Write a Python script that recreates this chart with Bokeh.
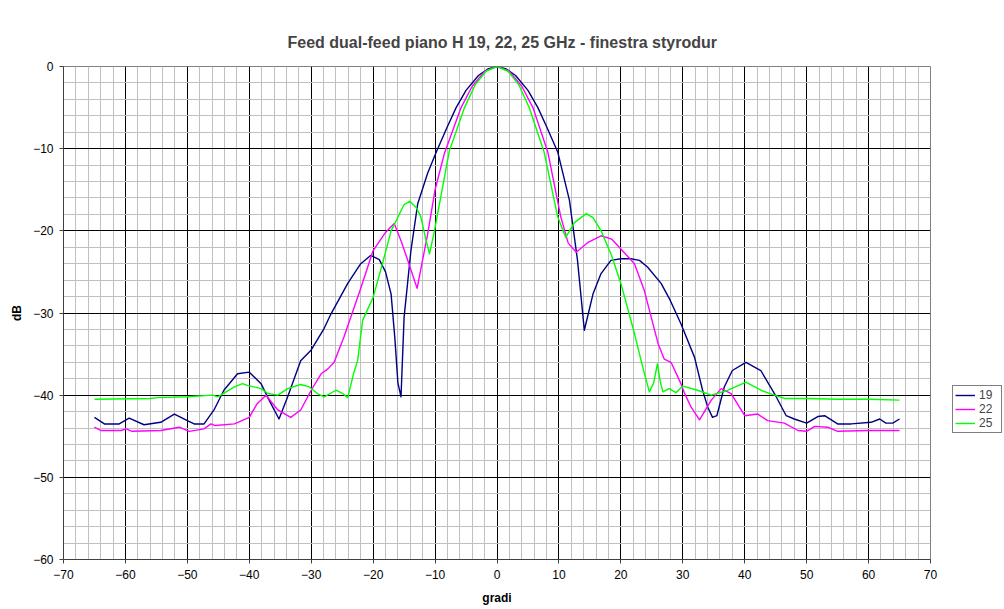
from bokeh.plotting import figure
from bokeh.models import SingleIntervalTicker, Legend, LegendItem, Range1d
from bokeh.layouts import row
from bokeh.embed import file_html
from bokeh.resources import INLINE

title_text = "Feed dual-feed piano H 19, 22, 25 GHz - finestra styrodur"
x_label = "gradi"
y_label = "dB"
series_names = ["19", "22", "25"]

x19 = [-65, -63.4, -61, -59.4, -57, -54.3, -52.1, -50, -48.9, -47.3, -45.7, -44.1, -41.9, -40, -38.1,
       -36.8, -35.2, -33.8, -31.7, -30, -28, -26.8, -24.1, -22, -20.4, -19, -18, -17.1, -16.5, -16,
       -15.5, -15, -13.9, -12.8, -11.2, -9.8, -8, -6.6, -5, -3, -1.5, 0, 1.5, 3, 5, 6.6, 8, 9.8,
       11.7, 13, 14.1, 15.5, 16.8, 18.4, 20, 21.6, 23, 24.3, 26.5, 28, 29.7, 31.9, 33.2, 34, 34.8,
       35.5, 36.7, 38, 40.2, 42.6, 44.8, 46.7, 48, 50, 51.8, 52.9, 55, 57.2, 60.4, 61.8, 62.8, 63.9, 65]
y19 = [-42.7, -43.5, -43.5, -42.8, -43.6, -43.3, -42.3, -43.1, -43.5, -43.5, -41.8, -39.4, -37.4, -37.2, -38.6,
       -40.6, -42.9, -40.2, -35.8, -34.5, -32.0, -30.1, -26.4, -24.0, -23.0, -23.5, -25.0, -27.7, -33.0, -38.5,
       -40.2, -30.5, -22.4, -16.7, -13.0, -10.4, -7.3, -5.0, -2.9, -1.1, -0.3, 0, -0.3, -1.1, -2.9, -5.0, -7.3, -10.4,
       -16.3, -23.6, -32.1, -27.7, -25.2, -23.6, -23.4, -23.4, -23.6, -24.4, -26.4, -28.5, -31.3, -35.4, -39.4, -41.4, -42.7,
       -42.5, -39.0, -37.0, -36.0, -37.0, -39.8, -42.5, -42.9, -43.4, -42.6, -42.5, -43.5, -43.5, -43.3, -42.9, -43.4, -43.4, -42.9]

x22 = [-65, -64, -60.7, -59.9, -58.9, -54.3, -51.3, -49.7, -47.3, -46.2, -45.5, -42.4, -40, -38.7, -37.3,
       -35.4, -33.3, -31.7, -30, -28.4, -27.3, -26.3, -24.7, -22, -20, -18, -16.6, -15.5, -14.4, -12.9,
       -11.2, -10, -8.5, -5.8, -4, -2, 0, 2, 4, 5.8, 8.2, 10.3, 11.5, 12.8, 14.7, 16.8, 18.5, 20, 22.2,
       23.8, 26, 27, 28.1, 29.7, 30.3, 31.3, 32.7, 34.6, 36.2, 37.8, 40, 42.1, 43.7, 46.4, 48.6, 50,
       51.3, 53.4, 55, 59.9, 65]
y22 = [-43.9, -44.3, -44.3, -44.1, -44.4, -44.3, -43.9, -44.4, -44.1, -43.5, -43.7, -43.5, -42.7, -41.0, -40.0,
       -41.8, -42.7, -41.8, -39.4, -37.4, -36.8, -36.0, -32.9, -27.0, -22.4, -20.2, -19.1, -21.2, -23.6, -27.0,
       -20.4, -15.0, -10.6, -5.0, -2.4, -0.6, 0, -0.6, -2.4, -5.0, -10.4, -18.3, -21.5, -22.6, -21.4, -20.6, -21.0, -22.2, -24.0,
       -27.3, -33.7, -35.6, -36.0, -38.6, -39.8, -41.4, -43.0, -40.6, -39.2, -39.8, -42.5, -42.3, -43.1, -43.4, -44.3, -44.4,
       -43.8, -43.9, -44.4, -44.3, -44.3]

x25 = [-65, -56, -54.8, -50, -45.9, -45.1, -42.4, -41.1, -40.3, -38.1, -37, -35.4, -33.8, -31.7, -30.3,
       -29, -27.9, -27.4, -26, -24.9, -24.1, -23.1, -22.5, -21.7, -20, -18.5, -17.1, -15, -14.1, -13,
       -12.3, -11.5, -10.9, -10.1, -7.7, -5.25, -3.5, -1.75, 0, 1.75, 3.5, 5.2, 7.6, 9.8, 11.1, 12.5,
       14.4, 15.5, 16.8, 18.5, 20, 22.2, 23.5, 24.6, 25.3, 25.9, 26.4, 26.8, 27.8, 28.9, 30, 32.4,
       34.6, 37.3, 40.2, 42.6, 44.8, 46.4, 50, 55, 60, 65]
y25 = [-40.5, -40.4, -40.3, -40.2, -40.0, -40.2, -39.0, -38.6, -38.8, -39.2, -39.8, -40.0, -39.2, -38.7, -39.0,
       -39.8, -40.2, -40.0, -39.4, -39.8, -40.3, -37.2, -35.8, -30.9, -28.1, -24.0, -20.0, -16.8, -16.4, -17.2,
       -18.3, -21.0, -22.8, -20.0, -10.3, -5.0, -2.2, -0.55, 0, -0.55, -2.2, -5.0, -10.4, -18.3, -20.8, -19.0,
       -17.9, -18.4, -20.0, -23.0, -26.4, -32.5, -36.5, -39.6, -38.5, -36.2, -38.5, -39.6, -39.2, -39.7, -38.9, -39.4,
       -40.0, -39.4, -38.4, -39.4, -40.0, -40.4, -40.4, -40.5, -40.5, -40.6]

colors = ["#000080", "#ff00ff", "#00ff00"]
FONT = "Liberation Sans"

p = figure(width=945, height=609, output_backend="svg", toolbar_location=None,
           x_range=Range1d(-70, 70), y_range=Range1d(-60, 0),
           min_border_left=63, min_border_right=15, min_border_top=66, min_border_bottom=50)

p.title.text = title_text
p.title.align = "left"
p.title.offset = 224
p.title.text_font = FONT
p.title.text_font_size = "16px"
p.title.text_font_style = "bold"
p.title.standoff = 32

p.xaxis.ticker = SingleIntervalTicker(interval=10, num_minor_ticks=5)
p.yaxis.ticker = SingleIntervalTicker(interval=10, num_minor_ticks=5)
p.xgrid.ticker = p.xaxis.ticker
p.ygrid.ticker = p.yaxis.ticker

for g in (p.xgrid, p.ygrid):
    g.grid_line_color = "black"
    g.grid_line_width = 1
    g.grid_line_alpha = 1
    g.minor_grid_line_color = "#c0c0c0"
    g.minor_grid_line_width = 1

for ax in (p.xaxis, p.yaxis):
    ax.axis_line_color = "#404040"
    ax.axis_line_width = 1
    ax.major_tick_line_color = "#404040"
    ax.major_tick_out = 4
    ax.major_tick_in = 0
    ax.minor_tick_line_color = None
    ax.major_label_text_font = FONT
    ax.major_label_text_font_size = "12px"
    ax.major_label_text_color = "black"
    ax.axis_label_text_font = FONT
    ax.axis_label_text_font_size = "12px"
    ax.axis_label_text_font_style = "bold"
    ax.axis_label_text_color = "black"

p.xaxis.axis_label = x_label
p.yaxis.axis_label = y_label
p.xaxis.major_label_standoff = 6
p.xaxis.axis_label_standoff = 9
p.yaxis.major_label_standoff = 6
p.yaxis.axis_label_standoff = 6

p.outline_line_color = "#808080"
p.outline_line_width = 1
p.background_fill_color = "white"
p.border_fill_color = "white"

renderers = []
for xs, ys, c in zip([x19, x22, x25], [y19, y22, y25], colors):
    r = p.line(xs, ys, line_color=c, line_width=1.4, line_join="round")
    renderers.append(r)

# side panel that holds the legend (outside the plotting frame, as in the reference)
q = figure(width=59, height=609, output_backend="svg", toolbar_location=None,
           x_range=Range1d(0, 1), y_range=Range1d(0, 1),
           min_border_left=0, min_border_right=0, min_border_top=0, min_border_bottom=0)
q.axis.visible = False
q.grid.visible = False
q.outline_line_color = None
q.background_fill_color = "white"
q.border_fill_color = "white"

legend_renderers = []
for c in colors:
    # placeholder lines kept outside the visible range; only their legend glyphs show
    legend_renderers.append(q.line([5, 6], [5, 6], line_color=c, line_width=1.4))

legend = Legend(items=[LegendItem(label=n, renderers=[r]) for n, r in zip(series_names, legend_renderers)],
                location=(7, 126), margin=0, padding=2, spacing=0,
                border_line_color="black", border_line_width=1,
                label_text_font=FONT, label_text_font_size="12px",
                glyph_width=20, glyph_height=10, label_height=10, label_standoff=4,
                background_fill_color="white")
q.add_layout(legend, "center")

layout = row(p, q, spacing=0)
open("out.html", "w").write(file_html(layout, INLINE))
